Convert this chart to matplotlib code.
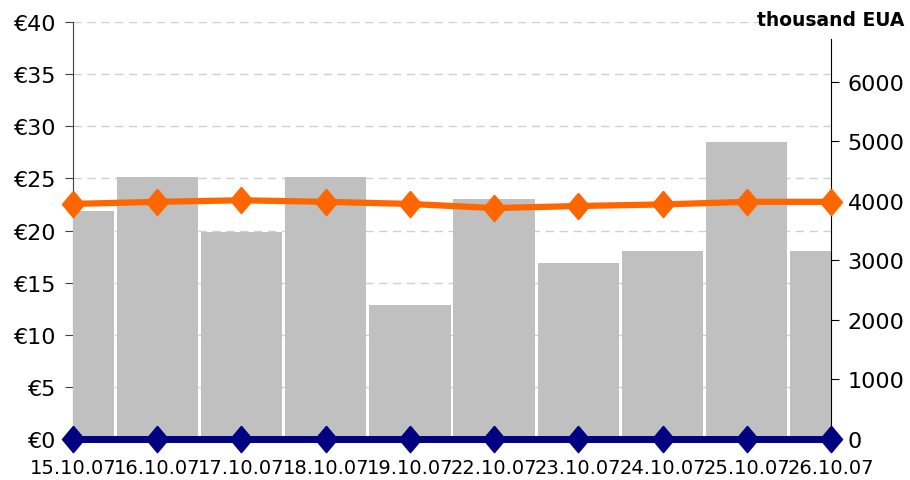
import matplotlib
matplotlib.use("Agg")
import matplotlib.pyplot as plt
from matplotlib.ticker import FuncFormatter, MultipleLocator

# ---- data ----
dates = ["15.10.07", "16.10.07", "17.10.07", "18.10.07", "19.10.07",
         "22.10.07", "23.10.07", "24.10.07", "25.10.07", "26.10.07"]
volume = [3830, 4400, 3480, 4400, 2250, 4030, 2960, 3160, 4980, 3160]   # thousand EUA
price = [22.55, 22.75, 22.9, 22.75, 22.55, 22.15, 22.35, 22.5, 22.75, 22.75]  # EUR
price2 = [0, 0, 0, 0, 0, 0, 0, 0, 0, 0]

x = list(range(len(dates)))

plt.rcParams['font.family'] = ['DejaVu Sans']

fig = plt.figure(figsize=(9.1, 4.81), dpi=100)
ax = fig.add_axes([0.0802, 0.0852, 0.8330, 0.8670])

# left axis: price, grid
ax.set_xlim(0, len(dates) - 1)
ax.set_ylim(0, 40)
ax.yaxis.set_major_locator(MultipleLocator(5))
ax.yaxis.set_major_formatter(FuncFormatter(lambda v, p: u'\u20ac%d' % v))
ax.grid(axis='y', color='#d0d0d0', linestyle=(0, (6, 4)), linewidth=1.0)
ax.set_axisbelow(True)
for s in ['top', 'right', 'bottom']:
    ax.spines[s].set_visible(False)
ax.spines['left'].set_color('#404040')
ax.tick_params(axis='y', direction='out', length=6, color='#404040',
               labelsize=16, pad=6)
ax.set_xticks(x)
ax.set_xticklabels(dates, fontsize=14)
ax.tick_params(axis='x', length=0, pad=14)

# right axis: volume bars
ax2 = ax.twinx()
ax2.bar(x, volume, width=0.965, color='#c0c0c0', zorder=2)
ax2.set_ylim(0, 7000)
ax2.set_yticks(range(0, 7000, 1000))
ax2.tick_params(axis='y', direction='out', length=6, color='black',
                labelsize=16, pad=6)
for s in ['top', 'left', 'bottom']:
    ax2.spines[s].set_visible(False)
ax2.spines['right'].set_bounds(0, 6720)
ax2.spines['right'].set_color('black')

# top layer: price lines
ax3 = ax.twinx()
ax3.set_ylim(ax.get_ylim())
ax3.axis('off')
diamond = [(0, 1), (0.84, 0), (0, -1), (-0.84, 0), (0, 1)]
ax3.plot(x, price2, color='#000080', linewidth=5, marker=diamond,
         markersize=19, clip_on=False, zorder=5)
ax3.plot(x, price, color='#ff6600', linewidth=4.5, marker=diamond,
         markersize=19, clip_on=False, zorder=6)

fig.text(0.994, 0.957, 'thousand EUA', ha='right', va='center',
         fontsize=13.5, fontweight='bold')

fig.savefig('out.png', dpi=100)
